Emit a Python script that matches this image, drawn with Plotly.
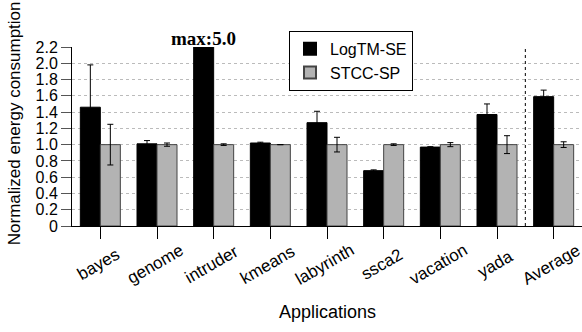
import plotly.graph_objects as go

categories = ["bayes", "genome", "intruder", "kmeans", "labyrinth", "ssca2", "vacation", "yada", "Average"]
logtm_values = [1.46, 1.01, 5.0, 1.02, 1.27, 0.68, 0.97, 1.37, 1.59]
logtm_errors = [0.52, 0.04, 0.0, 0.01, 0.14, 0.01, 0.005, 0.13, 0.08]
stcc_values = [1.0, 1.0, 1.0, 1.0, 1.0, 1.0, 1.0, 1.0, 1.0]
stcc_errors = [0.25, 0.02, 0.01, 0.0, 0.09, 0.01, 0.025, 0.11, 0.035]
y_ticks = [0, 0.2, 0.4, 0.6, 0.8, 1.0, 1.2, 1.4, 1.6, 1.8, 2.0, 2.2]
y_tick_labels = ["0", "0.2", "0.4", "0.6", "0.8", "1.0", "1.2", "1.4", "1.6", "1.8", "2.0", "2.2"]

FONT = "Liberation Sans, Arial, sans-serif"

fig = go.Figure()
fig.add_trace(go.Bar(
    name="LogTM-SE", x=categories, y=logtm_values,
    marker=dict(color="black", line=dict(color="black", width=1)),
    error_y=dict(type="data", array=logtm_errors, color="black", thickness=1, width=3),
))
fig.add_trace(go.Bar(
    name="STCC-SP", x=categories, y=stcc_values,
    marker=dict(color="#b3b3b3", line=dict(color="#444444", width=1)),
    error_y=dict(type="data", array=stcc_errors, color="black", thickness=1, width=3),
))

fig.update_layout(
    width=582, height=332,
    margin=dict(l=72, r=0, t=47, b=106, autoexpand=False),
    paper_bgcolor="white", plot_bgcolor="white",
    barmode="group", bargap=0.294, bargroupgap=0,
    font=dict(family=FONT, size=17, color="black"),
    showlegend=True,
    legend=dict(
        x=0.4255, y=1.09, xanchor="left", yanchor="top",
        bgcolor="white", bordercolor="black", borderwidth=1,
        font=dict(family=FONT, size=16, color="black"),
        tracegroupgap=0, itemsizing="constant",
    ),
)

fig.update_xaxes(
    type="category", range=[-0.5, 8.5],
    showline=True, linecolor="black", linewidth=1,
    ticks="outside", ticklen=12, tickcolor="black", tickwidth=1,
    showticklabels=False,
    showgrid=False, zeroline=False,
)
fig.update_yaxes(
    range=[0, 2.2], tickvals=y_ticks, ticktext=y_tick_labels,
    showline=True, linecolor="black", linewidth=1,
    ticks="outside", ticklen=10, tickcolor="#555555", tickwidth=1,
    tickfont=dict(family=FONT, size=16),
    showgrid=True, gridcolor="#bbbbbb", griddash="dot", gridwidth=1,
    zeroline=False,
)

# rotated category labels centred under each tick
for cat in categories:
    fig.add_annotation(text=cat, xref="x", yref="paper", x=cat, xshift=-2,
                       y=-0.2175, xanchor="center", yanchor="middle", textangle=-30,
                       showarrow=False, font=dict(family=FONT, size=17, color="black"))

# separator before Average
fig.add_shape(type="line", xref="x", yref="paper", x0=7.5, x1=7.5, y0=0, y1=1,
              line=dict(color="black", width=1, dash="3px,3px"))

fig.add_annotation(text="<b>max:5.0</b>", xref="x", yref="paper", x=categories[2], xshift=-10,
                   y=1.0485, yanchor="middle", showarrow=False,
                   font=dict(family="Liberation Serif, Times New Roman, serif", size=19, color="black"))

fig.add_annotation(text="Normalized energy consumption", xref="paper", yref="paper",
                   x=-0.1137, y=0.574, xanchor="center", yanchor="middle", textangle=-90,
                   showarrow=False, font=dict(family=FONT, size=17, color="black"))
fig.add_annotation(text="Applications", xref="paper", yref="paper",
                   x=0.5, y=-0.479, xanchor="center", yanchor="middle",
                   showarrow=False, font=dict(family=FONT, size=18, color="black"))

fig.write_html("out.html", config={"displayModeBar": False},
               post_script="document.body.style.margin='0';")
